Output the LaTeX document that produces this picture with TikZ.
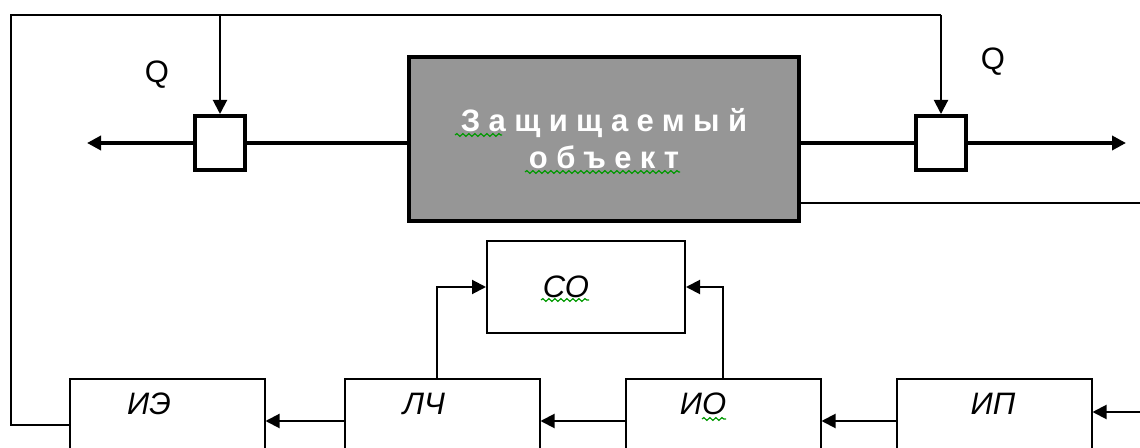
\documentclass[tikz,border=0pt]{standalone}
\usepackage{fontspec}
\setmainfont{Liberation Sans}
\newfontfamily\spacedfont[LetterSpace=27]{Liberation Sans}
\usetikzlibrary{arrows.meta,decorations.pathmorphing}
\definecolor{objgray}{RGB}{150,150,150}
\begin{document}
\begin{tikzpicture}[x=0.5pt, y=-0.5pt,
    wire/.style={line width=1pt},
    arr/.style={line width=1pt, -{Triangle[length=7pt, width=7pt]}},
    flow/.style={line width=2pt},
    flowarr/.style={line width=2pt, -{Triangle[length=7pt, width=7pt]}},
    blk/.style={draw, line width=1pt, minimum width=97.5pt, minimum height=60pt, anchor=north, inner sep=0pt},
    valve/.style={draw, line width=2pt, fill=white, minimum width=25pt, minimum height=27pt, inner sep=0pt},
    lbl/.style={font=\itshape\fontsize{15.5}{18}\selectfont, inner sep=0pt},
    squig/.style={green!60!black, line width=0.6pt, decorate, decoration={snake, amplitude=0.7pt, segment length=3pt}}]
  \clip (0,0) rectangle (1140,448);
  \node [draw, line width=2pt, fill=objgray, minimum width=195pt, minimum height=82pt, inner sep=0pt,
         text=white, align=center, font=\spacedfont\bfseries\fontsize{15.5}{18.5}\selectfont] (obj) at (604,139) {Защищаемый\\объект};
  \node [valve] (vL) at (220,143) {};
  \node [valve] (vR) at (941,143) {};
  \node [lbl, font=\fontsize{15.5}{18}\selectfont] (qL) at (157,75) {Q};
  \node [lbl, font=\fontsize{15.5}{18}\selectfont] (qR) at (993,62) {Q};
  \node [draw, line width=1pt, minimum width=99pt, minimum height=46pt, inner sep=0pt] (co) at (586,287) {};
  \node [lbl] (coT) at (566,287) {СО};
  \node [blk] (ie) at (167,378) {};
  \node [blk] (lch) at (442,378) {};
  \node [blk] (io) at (723,378) {};
  \node [blk] (ip) at (994,378) {};
  \node [lbl] (ieT) at (149,404) {ИЭ};
  \node [lbl] (lchT) at (424,404) {ЛЧ};
  \node [lbl] (ioT) at (703,404) {ИО};
  \node [lbl] (ipT) at (993,404) {ИП};
  \coordinate (tl) at (11,15);
  \coordinate (ret) at (11,425);
  \coordinate (tr) at (941,15);
  \coordinate (outL) at (87,143);
  \coordinate (outR) at (1126,143);
  \coordinate (side) at (1140,203);
  \coordinate (inP) at (1140,412);
  \coordinate (row) at (0,421);
  \draw [flowarr] (vL.west) -- (outL);
  \draw [flow] (obj.west |- vL.east) -- (vL.east);
  \draw [flow] (obj.east |- vR.west) -- (vR.west);
  \draw [flowarr] (vR.east) -- (outR);
  \draw [wire] (ie.west |- ret) -- (ret) -- (tl) -- (tr);
  \draw [arr] (tr) -- (vR.north);
  \draw [arr] (vL.north |- tl) -- (vL.north);
  \draw [wire] (obj.east |- side) -- (side);
  \draw [arr] (inP) -- (ip.east |- inP);
  \draw [arr] (ip.west |- row) -- (io.east |- row);
  \draw [arr] (io.west |- row) -- (lch.east |- row);
  \draw [arr] (lch.west |- row) -- (ie.east |- row);
  \draw [arr] (437,378) |- (co.west);
  \draw [arr] (io.north) |- (co.east);
  \draw [squig] (455,135) -- (502,135);
  \draw [squig] (525,172) -- (680,172);
  \draw [squig] (541,300) -- (589,300);
  \draw [squig] (702,419) -- (726,419);
\end{tikzpicture}
\end{document}
